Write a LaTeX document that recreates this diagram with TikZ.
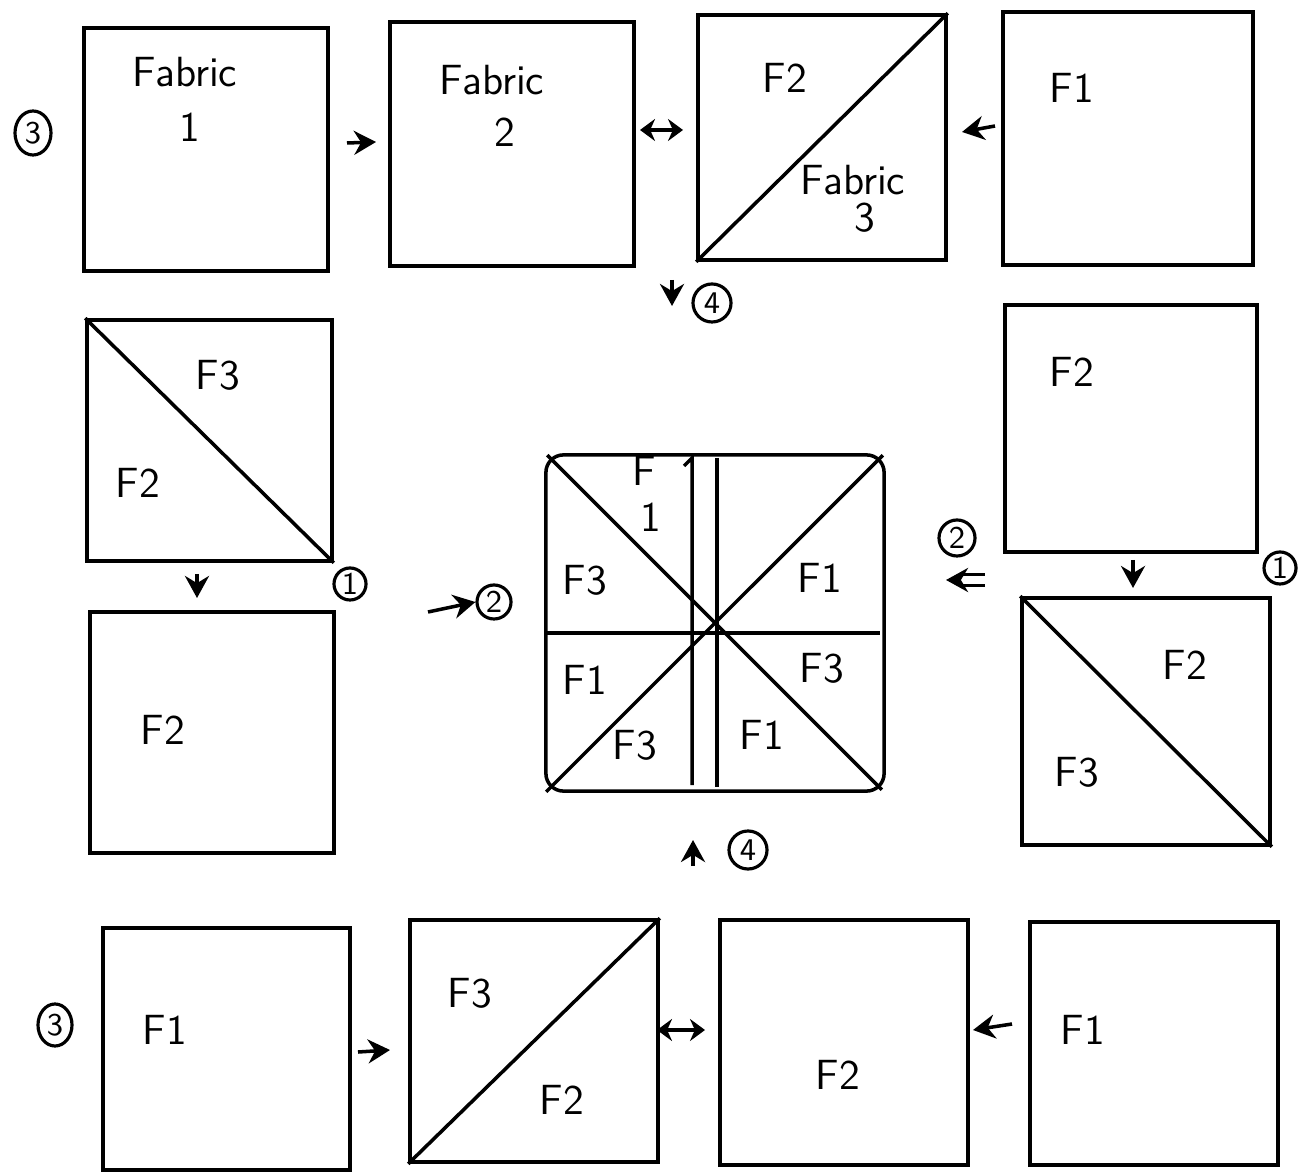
\documentclass[tikz,border=0pt]{standalone}
\usepackage{tikz}
\usetikzlibrary{arrows.meta,positioning,calc,shapes.geometric}
\tikzset{
  % plain patch square, drawn as an empty node
  sq/.style    = {draw, line width=1pt, inner sep=0pt},
  seam/.style  = {line width=1pt},
  lbl/.style   = {font=\large\sffamily, inner sep=0pt},
  num/.style   = {circle, draw, line width=0.9pt, inner sep=0.5pt, minimum size=0.32cm, font=\small\sffamily},
  arr/.style   = {-{Stealth[length=2.2mm,width=2.4mm]}, line width=1pt},
  darr/.style  = {{Stealth[length=1.5mm,width=2.2mm]}-{Stealth[length=1.5mm,width=2.2mm]}, line width=1pt},
}
\begin{document}
\begin{tikzpicture}[x=0.01cm, y=-0.01cm]
\useasboundingbox (0,0) rectangle (1304,1174);
% squares: name/center x/center y/width/height
\foreach \n/\x/\y/\w/\h in {A/206/149.5/2.44/2.43, B/512/144/2.44/2.44, C/822/137.5/2.48/2.45,
    D/1128/138.5/2.50/2.53, E/209.5/440.5/2.45/2.41, F/212/732.5/2.44/2.41,
    G/1131/428.5/2.52/2.47, H/1146/721.5/2.48/2.47, I/226.5/1049/2.47/2.42,
    J/534/1041/2.48/2.42, K/844/1042.5/2.48/2.45, L/1154/1043.5/2.48/2.43}
  {\node[sq, minimum width=\w cm, minimum height=\h cm] (\n) at (\x,\y) {};}
\node[sq, rounded corners=5pt, minimum width=3.38cm, minimum height=3.36cm] (M) at (715,623) {};
% diagonals
\draw[seam] (C.south west) -- (C.north east);
\draw[seam] (E.north west) -- (E.south east);
\draw[seam] (H.north west) -- (H.south east);
\draw[seam] (J.south west) -- (J.north east);
% centre block seams
\draw[seam] ([shift={(3,2)}]M.north west) -- ([shift={(-4,-3)}]M.south east);
\draw[seam] ([shift={(2,-1)}]M.south west) -- ([shift={(-3,2)}]M.north east);
\draw[seam] (546,633) -- (880,633);
\draw[seam] (692,785) -- (692,458) -- (684,466);
\draw[seam] (717,458) -- (717,787);
% top row
\node[lbl] (tA1) at (185,72) {Fabric};
\node[lbl] (tA2) at (190,127) {1};
\node[lbl] (tB1) at (492,80) {Fabric};
\node[lbl] (tB2) at (505,132) {2};
\node[lbl] (tC1) at (785,78) {F2};
\node[lbl] (tC2) at (853,180) {Fabric};
\node[lbl] (tC3) at (865,218) {3};
\node[lbl] (tD) at (1072,88) {F1};
% middle left
\node[lbl] (tE1) at (218,375) {F3};
\node[lbl] (tE2) at (138,483) {F2};
\node[lbl] (tF) at (163,730) {F2};
% centre
\node[lbl, align=center] (tM1) at (644,494) {F\\[-1pt]\hspace*{4pt}1};
\node[lbl] (tM3) at (585,580) {F3};
\node[lbl] (tM4) at (820,578) {F1};
\node[lbl] (tM5) at (585,680) {F1};
\node[lbl] (tM6) at (822,668) {F3};
\node[lbl] (tM7) at (635,745) {F3};
\node[lbl] (tM8) at (762,735) {F1};
% middle right
\node[lbl] (tG) at (1072,372) {F2};
\node[lbl] (tH1) at (1185,665) {F2};
\node[lbl] (tH2) at (1077,772) {F3};
% bottom row
\node[lbl] (tI) at (165,1030) {F1};
\node[lbl] (tJ1) at (470,993) {F3};
\node[lbl] (tJ2) at (562,1100) {F2};
\node[lbl] (tK) at (838,1075) {F2};
\node[lbl] (tL) at (1083,1030) {F1};
% step numbers
\node[num, ellipse, minimum width=0.36cm, minimum height=0.44cm] (n3a) at (33,133) {3};
\node[num, minimum size=0.38cm] (n4a) at (712,303) {4};
\node[num] (n1a) at (350,584) {1};
\node[num, minimum size=0.34cm] (n2a) at (494,602) {2};
\node[num, minimum size=0.36cm] (n2b) at (957,538) {2};
\node[num] (n1b) at (1280,568) {1};
\node[num, minimum size=0.38cm] (n4b) at (748,850) {4};
\node[num, ellipse, minimum width=0.34cm, minimum height=0.42cm] (n3b) at (55,1025) {3};
% arrow marks
\draw[arr] (347,143) -- (376,142);
\draw[darr] (640,130) -- (683,130);
\draw[arr] (995,126) -- (962,132);
\draw[arr] (672,280) -- (672,306);
\draw[arr] (197,574) -- (197,598);
\draw[arr] (428,612) -- (n2a.west);
\draw[arr, double, double distance=2pt] (985,580) -- (946,580);
\draw[arr] (1133,560) -- (1133,588);
\draw[arr] (693,866) -- (693,840);
\draw[arr] (358,1052) -- (390,1050);
\draw[darr] (657,1030) -- (705,1030);
\draw[arr] (1012,1024) -- (973,1030);
\end{tikzpicture}
\end{document}
